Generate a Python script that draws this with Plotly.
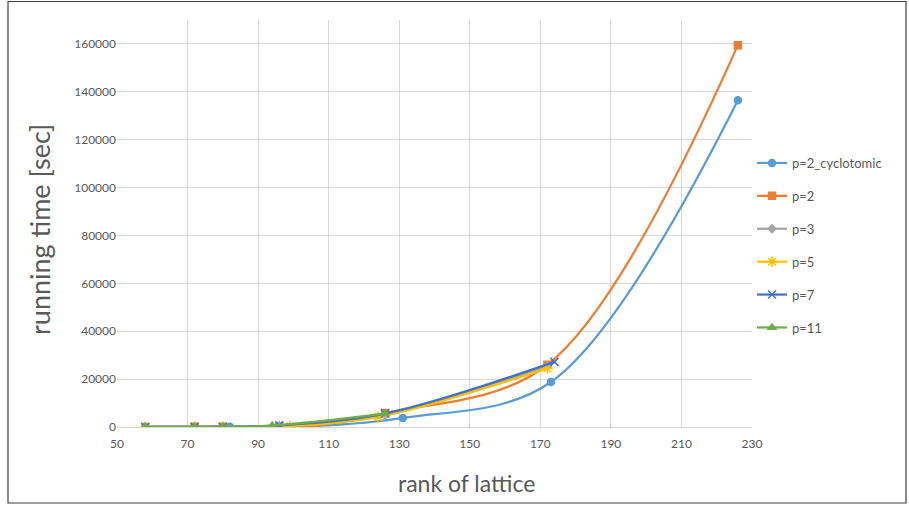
import plotly.graph_objects as go

# ---- data ----
cyc_x = [58, 72, 82, 106, 131, 173, 226]
cyc_y = [30, 80, 150, 400, 3800, 18800, 136500]

p2_x = [58, 72, 80, 96, 106, 126, 172, 226]
p2_y = [20, 60, 120, 300, 600, 5800, 26000, 159500]

p3_x = [58, 72, 80, 96, 126, 172]
p3_y = [20, 60, 120, 600, 5000, 25500]

p5_x = [58, 72, 80, 99, 124, 172]
p5_y = [20, 60, 120, 400, 4200, 24500]

p7_x = [58, 72, 80, 96, 126, 174]
p7_y = [20, 60, 120, 700, 5600, 27200]

p11_x = [58, 72, 80, 94, 126]
p11_y = [20, 60, 120, 600, 5600]

names = ["p=2_cyclotomic", "p=2", "p=3", "p=5", "p=7", "p=11"]
xs = [cyc_x, p2_x, p3_x, p5_x, p7_x, p11_x]
ys = [cyc_y, p2_y, p3_y, p5_y, p7_y, p11_y]
colors = ["#5B9BD5", "#ED7D31", "#A5A5A5", "#FFC000", "#4472C4", "#70AD47"]
symbols = ["circle", "square", "diamond", "asterisk-open", "x-thin-open", "triangle-up"]
sizes = [7, 7, 6, 9, 8, 7]

x_ticks = list(range(50, 231, 20))
y_ticks = list(range(0, 160001, 20000))

fig = go.Figure()
for i, (n, x, y) in enumerate(zip(names, xs, ys)):
    fig.add_trace(go.Scatter(
        x=x, y=y, name=n, mode="lines+markers",
        line=dict(color=colors[i], width=2.25, shape="spline", smoothing=1.0),
        marker=dict(symbol=symbols[i], size=sizes[i], color=colors[i],
                    line=dict(color=colors[i], width=1.5)),
        legendgroup=n,
    ))

W, H = 909, 506
L, R, T, B = 117, 157, 20, 79
pw, ph = W - L - R, H - T - B

def px_x(p):
    return (p - L) / pw

def px_y(p):
    return (H - B - p) / ph

fig.add_shape(type="rect", xref="paper", yref="paper",
              x0=px_x(8), x1=px_x(906), y0=px_y(503), y1=px_y(1.5),
              line=dict(color="#404040", width=1.2), fillcolor="rgba(0,0,0,0)")

font = "Lato, 'Open Sans', sans-serif"
fig.add_annotation(text="rank of lattice", xref="paper", yref="paper",
                   x=px_x(466), y=px_y(483), xanchor="center", yanchor="middle",
                   showarrow=False, font=dict(size=23, color="#595959", family=font))
fig.add_annotation(text="running time [sec]", xref="paper", yref="paper",
                   x=px_x(40), y=px_y(230), xanchor="center", yanchor="middle",
                   textangle=-90, showarrow=False,
                   font=dict(size=27, color="#595959", family=font))

fig.update_layout(
    width=W, height=H,
    margin=dict(l=L, r=R, t=T, b=B),
    paper_bgcolor="white", plot_bgcolor="white",
    font=dict(family=font, color="#595959"),
    showlegend=True,
    legend=dict(x=px_x(752), y=px_y(148), xanchor="left", yanchor="top",
                font=dict(size=13, color="#595959"),
                traceorder="grouped", tracegroupgap=13,
                itemwidth=30, bgcolor="rgba(0,0,0,0)"),
    xaxis=dict(range=[50, 230], tickvals=x_ticks, ticktext=[str(v) for v in x_ticks],
               showgrid=True, gridcolor="#D9D9D9", gridwidth=1,
               zeroline=False, showline=True, linecolor="#D9D9D9",
               tickfont=dict(size=12, color="#595959"), ticks="",
               ticklabelstandoff=6),
    yaxis=dict(range=[0, 170000], tickvals=y_ticks, ticktext=[str(v) for v in y_ticks],
               showgrid=True, gridcolor="#D9D9D9", gridwidth=1,
               zeroline=False, showline=False,
               tickfont=dict(size=12, color="#595959"), ticks=""),
)

fig.write_html("out.html", config={"displayModeBar": False},
               post_script="document.body.style.margin='0';")
